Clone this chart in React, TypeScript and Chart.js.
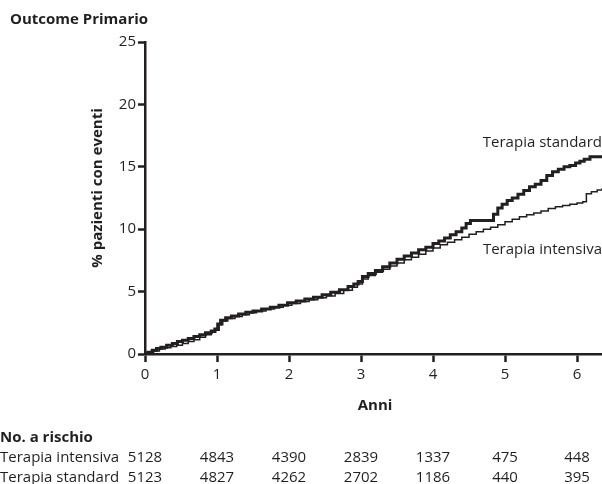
import React, { useEffect, useRef } from "react";
import { Chart, registerables } from "chart.js";

Chart.register(...registerables);

const chartTitle = "Outcome Primario";
const yAxisTitle = "% pazienti con eventi";
const xAxisTitle = "Anni";
const xTicks = [0, 1, 2, 3, 4, 5, 6];
const yTicks = [0, 5, 10, 15, 20, 25];
const seriesNames = ["Terapia standard", "Terapia intensiva"];

// [anni, % pazienti con eventi]
const standardCurve: number[][] = [
  [0, 0], [0.04, 0.15], [0.1, 0.3], [0.16, 0.45], [0.22, 0.55], [0.3, 0.7],
  [0.38, 0.85], [0.45, 1.0], [0.52, 1.1], [0.6, 1.25], [0.68, 1.4], [0.76, 1.55],
  [0.84, 1.7], [0.92, 1.85], [0.97, 2.0], [1.01, 2.4], [1.05, 2.7], [1.12, 2.9],
  [1.2, 3.05], [1.3, 3.2], [1.4, 3.35], [1.5, 3.45], [1.62, 3.6], [1.74, 3.75],
  [1.86, 3.9], [1.98, 4.1], [2.1, 4.25], [2.22, 4.4], [2.34, 4.55], [2.46, 4.75],
  [2.58, 4.95], [2.7, 5.15], [2.82, 5.4], [2.9, 5.6], [2.96, 5.8], [3.02, 6.2],
  [3.1, 6.45], [3.2, 6.7], [3.3, 7.0], [3.4, 7.3], [3.5, 7.6], [3.6, 7.85],
  [3.7, 8.1], [3.8, 8.35], [3.9, 8.55], [4.0, 8.85], [4.08, 9.05], [4.16, 9.3],
  [4.24, 9.55], [4.32, 9.8], [4.4, 10.1], [4.46, 10.45], [4.52, 10.7], [4.84, 11.2],
  [4.9, 11.7], [4.96, 12.0], [5.03, 12.3], [5.1, 12.5], [5.18, 12.8], [5.26, 13.1],
  [5.34, 13.4], [5.42, 13.6], [5.5, 13.9], [5.58, 14.3], [5.66, 14.6], [5.74, 14.8],
  [5.82, 15.0], [5.9, 15.1], [5.98, 15.3], [6.04, 15.45], [6.1, 15.6], [6.18, 15.8],
  [6.35, 15.8],
];

const intensiveCurve: number[][] = [
  [0, 0], [0.06, 0.1], [0.12, 0.25], [0.2, 0.4], [0.28, 0.5], [0.36, 0.6],
  [0.44, 0.7], [0.52, 0.85], [0.6, 1.0], [0.68, 1.15], [0.76, 1.35], [0.84, 1.55],
  [0.92, 1.75], [0.98, 1.9], [1.03, 2.35], [1.08, 2.65], [1.15, 2.85], [1.25, 3.0],
  [1.35, 3.15], [1.45, 3.3], [1.55, 3.45], [1.68, 3.6], [1.8, 3.75], [1.92, 3.9],
  [2.04, 4.05], [2.16, 4.2], [2.28, 4.35], [2.4, 4.5], [2.52, 4.65], [2.64, 4.85],
  [2.76, 5.1], [2.88, 5.35], [2.95, 5.6], [3.02, 6.0], [3.1, 6.3], [3.2, 6.55],
  [3.3, 6.8], [3.4, 7.05], [3.5, 7.3], [3.6, 7.55], [3.7, 7.75], [3.8, 8.0],
  [3.9, 8.25], [4.0, 8.5], [4.1, 8.75], [4.2, 8.95], [4.3, 9.15], [4.4, 9.35],
  [4.5, 9.6], [4.6, 9.8], [4.7, 10.0], [4.8, 10.15], [4.9, 10.35], [5.0, 10.6],
  [5.1, 10.8], [5.2, 11.0], [5.3, 11.15], [5.4, 11.3], [5.5, 11.45], [5.6, 11.65],
  [5.7, 11.8], [5.8, 11.9], [5.9, 12.0], [6.0, 12.1], [6.08, 12.2], [6.13, 12.85],
  [6.2, 13.0], [6.28, 13.15], [6.35, 13.3],
];

const riskHeader = "No. a rischio";
const riskLabels = ["Terapia intensiva", "Terapia standard"];
const riskIntensive = [5128, 4843, 4390, 2839, 1337, 475, 448];
const riskStandard = [5123, 4827, 4262, 2702, 1186, 440, 395];

const INK = "#231f20";
const FONT = "'Open Sans', 'Noto Sans', sans-serif";

export default function App() {
  const ref = useRef<HTMLCanvasElement | null>(null);

  useEffect(() => {
    if (!ref.current) return;
    const textPlugin = {
      id: "texts",
      afterDraw(chart: any) {
        const ctx = chart.ctx;
        const xs = chart.scales.x;
        const ys = chart.scales.y;
        ctx.save();
        ctx.fillStyle = INK;
        // title
        ctx.font = `bold 15px ${FONT}`;
        ctx.textAlign = "left";
        ctx.textBaseline = "alphabetic";
        ctx.fillText(chartTitle, 10, 24);
        // y title
        ctx.save();
        ctx.translate(102, 188);
        ctx.rotate(-Math.PI / 2);
        ctx.textAlign = "center";
        ctx.fillText(yAxisTitle, 0, 0);
        ctx.restore();
        // x title
        ctx.textAlign = "center";
        ctx.fillText(xAxisTitle, 375, 410);
        // series labels
        ctx.font = `15px ${FONT}`;
        ctx.textAlign = "right";
        ctx.fillText(seriesNames[0], 602, ys.getPixelForValue(15.8) - 10);
        ctx.fillText(seriesNames[1], 602, ys.getPixelForValue(8.0));
        // risk table
        ctx.font = `bold 15px ${FONT}`;
        ctx.textAlign = "left";
        ctx.fillText(riskHeader, 0, 442);
        ctx.font = `15px ${FONT}`;
        ctx.fillText(riskLabels[0], 0, 462);
        ctx.fillText(riskLabels[1], 0, 482);
        ctx.textAlign = "center";
        xTicks.forEach((t, i) => {
          const px = xs.getPixelForValue(t);
          ctx.fillText(String(riskIntensive[i]), px, 462);
          ctx.fillText(String(riskStandard[i]), px, 482);
        });
        ctx.restore();
      },
    };

    const chart = new Chart(ref.current, {
      type: "line",
      data: {
        datasets: [
          {
            label: seriesNames[0],
            data: standardCurve.map(([x, y]) => ({ x, y })),
            borderColor: INK,
            borderWidth: 3,
            pointRadius: 0,
            stepped: true,
            fill: false,
          },
          {
            label: seriesNames[1],
            data: intensiveCurve.map(([x, y]) => ({ x, y })),
            borderColor: INK,
            borderWidth: 1.5,
            pointRadius: 0,
            stepped: true,
            fill: false,
          },
        ],
      },
      options: {
        animation: false,
        responsive: false,
        maintainAspectRatio: false,
        layout: { padding: { top: 42, left: 0, right: 0, bottom: 0 } },
        plugins: { legend: { display: false }, tooltip: { enabled: false }, title: { display: false } },
        scales: {
          x: {
            type: "linear",
            min: 0,
            max: 6.347,
            afterBuildTicks: (s: any) => {
              s.ticks = xTicks.map((v) => ({ value: v }));
            },
            afterFit: (s: any) => {
              s.height = 130;
            },
            grid: {
              display: true,
              drawOnChartArea: false,
              drawTicks: true,
              tickLength: 8,
              tickWidth: 2.5,
              color: INK,
            },
            border: { display: true, color: INK, width: 2.5 },
            ticks: {
              color: INK,
              font: { family: FONT, size: 15 },
              padding: 4,
              maxRotation: 0,
              autoSkip: false,
            },
          },
          y: {
            type: "linear",
            min: 0,
            max: 25,
            afterBuildTicks: (s: any) => {
              s.ticks = yTicks.map((v) => ({ value: v }));
            },
            afterFit: (s: any) => {
              s.width = 145;
            },
            grid: {
              display: true,
              drawOnChartArea: false,
              drawTicks: true,
              tickLength: 7,
              tickWidth: 2.5,
              color: INK,
            },
            border: { display: true, color: INK, width: 2.5 },
            ticks: {
              color: INK,
              font: { family: FONT, size: 15 },
              padding: 2,
            },
          },
        },
      },
      plugins: [textPlugin],
    });
    return () => chart.destroy();
  }, []);

  return (
    <div style={{ position: "absolute", left: 0, top: 0, width: 602, height: 484, background: "#fff" }}>
      <canvas ref={ref} width={602} height={484} style={{ display: "block", width: 602, height: 484 }} />
    </div>
  );
}
